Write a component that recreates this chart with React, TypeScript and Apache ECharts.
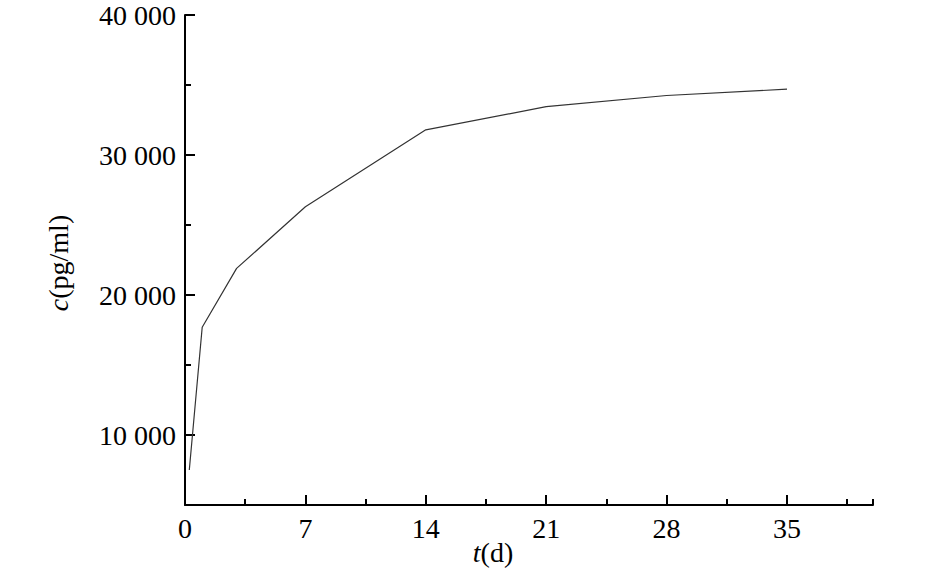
import React, { useEffect, useRef } from "react";
import * as echarts from "echarts";

const days = [0.25, 1, 3, 7, 14, 21, 28, 35];
const concentration = [7500, 17700, 21900, 26300, 31800, 33450, 34250, 34700];
const xMajorTicks = [0, 7, 14, 21, 28, 35];
const yMajorTicks = [10000, 20000, 30000, 40000];

const FONT = "Liberation Serif";
const FS = 28;

function fmtThousands(v: number): string {
  const s = String(Math.round(v));
  return s.replace(/\B(?=(\d{3})+(?!\d))/g, " ");
}

export default function App() {
  const ref = useRef<HTMLDivElement>(null);
  useEffect(() => {
    if (!ref.current) return;
    const chart = echarts.init(ref.current, null, { renderer: "svg" });
    const axisLine = { show: true, lineStyle: { color: "#000", width: 2 } };
    chart.setOption({
      animation: false,
      backgroundColor: "#fff",
      grid: { left: 185, top: 15, right: 72, bottom: 65, containLabel: false },
      xAxis: [
        {
          type: "value",
          min: 0,
          max: 40,
          interval: 3.5,
          axisLine,
          axisTick: { show: true, inside: true, length: 6, lineStyle: { color: "#000", width: 2 } },
          axisLabel: { show: false },
          splitLine: { show: false },
        },
        {
          type: "value",
          min: 0,
          max: 40,
          position: "bottom",
          axisLine: { show: false },
          axisTick: {
            show: true,
            inside: true,
            length: 10,
            customValues: xMajorTicks,
            lineStyle: { color: "#000", width: 2 },
          },
          axisLabel: {
            show: true,
            customValues: xMajorTicks,
            margin: 9,
            color: "#000",
            fontFamily: FONT,
            fontSize: FS,
          },
          splitLine: { show: false },
        },
      ],
      yAxis: [
        {
          type: "value",
          min: 5000,
          max: 40000,
          interval: 5000,
          axisLine,
          axisTick: { show: true, inside: true, length: 6, lineStyle: { color: "#000", width: 2 } },
          axisLabel: { show: false },
          splitLine: { show: false },
        },
        {
          type: "value",
          min: 5000,
          max: 40000,
          position: "left",
          axisLine: { show: false },
          axisTick: {
            show: true,
            inside: true,
            length: 10,
            customValues: yMajorTicks,
            lineStyle: { color: "#000", width: 2 },
          },
          axisLabel: {
            show: true,
            customValues: yMajorTicks,
            margin: 9,
            color: "#000",
            fontFamily: FONT,
            fontSize: FS,
            formatter: (v: number) => fmtThousands(v),
          },
          splitLine: { show: false },
        },
      ],
      series: [
        {
          type: "line",
          xAxisIndex: 0,
          yAxisIndex: 0,
          data: days.map((d, i) => [d, concentration[i]]),
          showSymbol: false,
          symbol: "none",
          lineStyle: { color: "#333", width: 1.2 },
        },
      ],
      graphic: [
        {
          type: "text",
          x: 493,
          y: 552,
          style: {
            text: "{i|t}(d)",
            fontFamily: FONT,
            fontSize: FS,
            fill: "#000",
            align: "center",
            verticalAlign: "middle",
            rich: { i: { fontStyle: "italic", fontFamily: FONT, fontSize: FS } },
          },
        },
        {
          type: "text",
          x: 58,
          y: 263,
          rotation: Math.PI / 2,
          style: {
            text: "{i|c}(pg/ml)",
            fontFamily: FONT,
            fontSize: FS,
            fill: "#000",
            align: "center",
            verticalAlign: "middle",
            rich: { i: { fontStyle: "italic", fontFamily: FONT, fontSize: FS } },
          },
        },
      ],
    });
    return () => chart.dispose();
  }, []);
  return (
    <div
      ref={ref}
      style={{ position: "fixed", left: 0, top: 0, width: 945, height: 570, background: "#fff" }}
    />
  );
}
